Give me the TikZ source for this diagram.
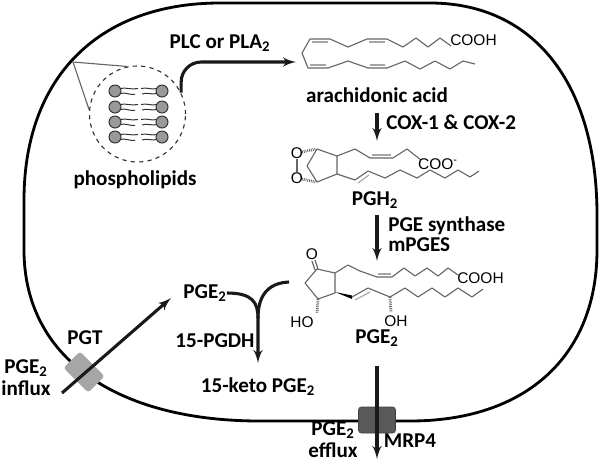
\documentclass[tikz,border=0pt]{standalone}
\usepackage{fontspec}
\setsansfont{Carlito}
\newfontfamily\chemfont{Liberation Sans}
\usetikzlibrary{arrows,positioning}

\begin{document}
\begin{tikzpicture}[
    x=0.025cm, y=-0.025cm,
    >=latex',
    font=\sffamily\bfseries\fontsize{15}{14}\selectfont,
    lbl/.style={
		inner sep=0pt,
		align=center
	},
    twoline/.style={
		lbl,
		font=\sffamily\bfseries\fontsize{15}{15.5}\selectfont
	},
    atom/.style={
		inner sep=0pt,
		font=\chemfont\fontsize{11}{12}\selectfont
	},
    flow/.style={draw=black!90, line width=2.2pt, ->},
    bond/.style={draw=black!60, line width=0.8pt, line join=round},
    dbond/.style={draw=black!35, line width=0.8pt},
    hash/.style={draw=black!60, line width=2pt, dash pattern=on 0.6pt off 0.7pt},
    tail/.style={draw=black!80, line width=0.7pt},
    head/.style={circle, draw=black!80, fill=black!40, line width=0.7pt,
		minimum size=0.3cm, inner sep=0pt}
  ]
  \useasboundingbox (0,0) rectangle (600,463);

  % the cell
  \draw[line width=2pt] (24,200) .. controls (24,78) and (98,3) .. (220,3)
    -- (430,3) .. controls (534,3) and (597,84) .. (597,215)
    -- (597,250) .. controls (597,356) and (526,421) .. (410,421)
    -- (260,421) .. controls (114,421) and (24,356) .. (24,250) -- cycle;

  % transporters in the membrane
  \node[rectangle, rounded corners=2pt, fill=black!35, minimum width=0.875cm,
    minimum height=0.575cm, rotate=-45] (pgtbox) at (84,372) {};
  \node[rectangle, rounded corners=2pt, fill=black!65, draw=black!75,
    minimum width=0.925cm, minimum height=0.65cm] (mrpbox) at (377,420) {};

  % phospholipid inset
  \node[circle, draw=black!80, dashed, line width=0.8pt, minimum size=2.4cm,
    inner sep=0pt] (inset) at (137.5,114) {};
  \coordinate (mem) at (73,62);
  \draw[black!60, line width=0.8pt] (inset.102) -- (mem) -- (inset.175);
  \foreach \y in {91,107,122,137} {
    \draw[tail] (120,\y-2.5) .. controls (126,\y-4) and (131,\y-1) .. (138,\y-2.5);
    \draw[tail] (120,\y+2.5) .. controls (125,\y+1) and (130,\y+4) .. (135,\y+3.5);
    \draw[tail] (157,\y-2.5) .. controls (151,\y-1) and (147,\y-4) .. (141,\y-2.5);
    \draw[tail] (157,\y+2.5) .. controls (152,\y+4) and (147,\y+1) .. (142,\y+3);
    \node[head] (hl\y) at (115,\y) {};
    \node[head] (hr\y) at (162,\y) {};
  }
  \node[lbl] (lipids) at (135,180) {phospholipids};

  % arachidonic acid
  \draw[bond] (302,53) -- (310,39) -- (330,39) -- (348,47) -- (367,39) -- (387,39)
    -- (403,47) -- (416,38) -- (428,47) -- (440,38) -- (451,46);
  \draw[bond] (302,53) -- (308,68) -- (328,68) -- (348,61) -- (368,68) -- (387,68)
    -- (405,61) -- (420,69) -- (435,61) -- (450,69) -- (463,61) -- (475,64);
  \draw[dbond] (312,42) -- (328,42);
  \draw[dbond] (369,42) -- (385,42);
  \draw[dbond] (310,65) -- (326,65);
  \draw[dbond] (370,65) -- (385,65);
  \node[atom, anchor=west] (cooh1) at (450,40) {COOH};
  \node[lbl] (aa) at (377,95) {arachidonic acid};

  % PGH2
  \node[atom] (o1) at (297,153) {O};
  \node[atom] (o2) at (297,178) {O};
  \draw[bond] (297,159) -- (297,172);
  \draw[hash] (302,152) -- (316,149);
  \draw[hash] (302,179) -- (316,182);
  \draw[bond] (317,149) -- (337,156) -- (337,174) -- (317,182) -- (307,166) -- cycle;
  \draw[bond] (337,156) -- (355,149) -- (370,158) -- (393,158) -- (407,149) -- (421,160);
  \draw[dbond] (372,155) -- (391,155);
  \draw[bond] (337,174) -- (355,180) -- (368,171) -- (385,178) -- (400,170) -- (417,178)
    -- (430,170) -- (445,178) -- (458,170) -- (470,177) -- (479,171);
  \draw[dbond] (358,183) -- (369,175);
  \node[atom] (coo) at (438,164) {COO\textsuperscript{-}};
  \node[lbl] (pgh) at (375,200) {PGH\textsubscript{2}};

  % PGE2
  \node[atom] (oket) at (312,254) {O};
  \draw[bond] (318,269) -- (315,260);
  \draw[bond] (315,270) -- (312,261);
  \draw[bond] (317,269) -- (335,273) -- (335,293) -- (318,299) -- (305,283) -- cycle;
  \draw[bond] (335,273) -- (348,265) -- (360,271) -- (377,277) -- (392,277) -- (404,268)
    -- (415,276) -- (427,268) -- (438,276) -- (448,268) -- (458,275);
  \draw[dbond] (378,274) -- (391,274);
  \fill[black] (335,292) -- (352,295.5) -- (352,299) -- cycle;
  \draw[bond] (352,297) -- (368,288) -- (390,297) -- (405,288) -- (418,297) -- (432,288)
    -- (445,297) -- (458,288) -- (472,297) -- (483,289);
  \draw[dbond] (355,300) -- (370,292);
  \draw[hash] (318,299) -- (317,313);
  \draw[hash] (390,297) -- (391,312);
  \node[atom] (ho) at (302,322) {HO};
  \node[atom] (oh) at (396,321) {OH};
  \node[atom, anchor=west] (cooh2) at (457,278) {COOH};
  \node[lbl] (pge) at (377,338) {PGE\textsubscript{2}};

  % enzyme labels
  \node[lbl] (plc) at (220,43) {PLC or PLA\textsubscript{2}};
  \node[lbl, anchor=west] (cox) at (386,122) {COX-1 \& COX-2};
  \node[lbl, anchor=west, align=left] (pges) at (388,234) {PGE synthase\\mPGES};
  \node[lbl] (pgeL) at (205,293) {PGE\textsubscript{2}};
  \node[lbl] (pgdh) at (215,341) {15-PGDH};
  \node[lbl] (keto) at (258,387) {15-keto PGE\textsubscript{2}};
  \node[lbl] (pgt) at (85,338) {PGT};
  \node[twoline] (influx) at (26,378) {PGE\textsubscript{2}\\influx};
  \node[twoline] (efflux) at (333,440) {PGE\textsubscript{2}\\efflux};
  \node[lbl] (mrp) at (410,441) {MRP4};

  % arrow ends
  \coordinate (aaIn) at (296,62);
  \coordinate (coxA) at (377,113);
  \coordinate (coxB) at (377,141);
  \coordinate (pgesA) at (377,215);
  \coordinate (pgesB) at (377,261);
  \coordinate (effA) at (377,366);
  \coordinate (effB) at (377,459);
  \coordinate (inA) at (62,393);
  \coordinate (inB) at (171,298);
  \coordinate (pgeSrc) at (289,282);
  \coordinate (pgdhMid) at (258,318);
  \coordinate (pgdhEnd) at (258,363);

  \draw[flow, rounded corners=0.5cm] (inset.26) |- (aaIn);
  \draw[flow] (coxA) -- (coxB);
  \draw[flow] (pgesA) -- (pgesB);
  \draw[flow] (effA) -- (effB);
  \draw[flow] (inA) -- (inB);
  \draw[flow] (pgeL.east) .. controls (252,293) and (258,302) .. (pgdhMid) -- (pgdhEnd);
  \draw[draw=black!90, line width=2.2pt] (pgeSrc) .. controls (266,283) and (258,298) .. (pgdhMid);

\end{tikzpicture}
\end{document}
